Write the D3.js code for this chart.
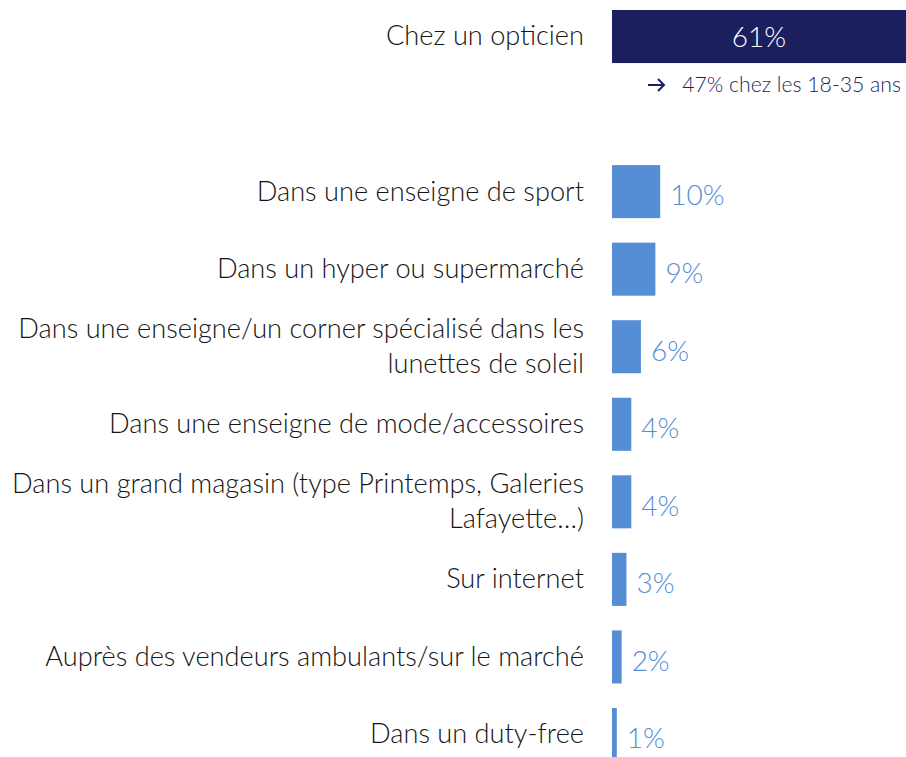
<!DOCTYPE html>
<html>
<head>
<meta charset="utf-8">
<script src="https://cdn.jsdelivr.net/npm/d3@7"></script>
<style>
  body { margin: 0; background: #fff; }
  text { font-family: Lato, "Open Sans", sans-serif; }
</style>
</head>
<body>
<svg id="chart" width="906" height="757"></svg>
<script>
// Lieux d'achat des lunettes de soleil (%)
const categories = [
    "Chez un opticien",
    "Dans une enseigne de sport",
    "Dans un hyper ou supermarché",
    "Dans une enseigne/un corner spécialisé dans les|lunettes de soleil",
    "Dans une enseigne de mode/accessoires",
    "Dans un grand magasin (type Printemps, Galeries|Lafayette…)",
    "Sur internet",
    "Auprès des vendeurs ambulants/sur le marché",
    "Dans un duty-free"
];
const values = [61, 10, 9, 6, 4, 4, 3, 2, 1];
const note = "47% chez les 18-35 ans";

const svg = d3.select("#chart"),
    width = +svg.attr("width"),
    height = +svg.attr("height");

const barLeft = 612, labelRight = 584;

// slot "gap" stays empty between the first bar and the others
const slots = ["s0", "gap"].concat(categories.slice(1).map((c, i) => "s" + (i + 1)));

const y = d3.scaleBand()
    .domain(slots)
    .range([10, 761])
    .paddingInner(0.316)
    .paddingOuter(0);

const x = d3.scaleLinear()
    .domain([0, 61])
    .range([barLeft, 906]);

const data = categories.map((c, i) => ({ label: c, value: values[i], slot: "s" + i, first: i === 0 }));

const rows = svg.append("g").selectAll("g")
    .data(data)
    .enter().append("g");

rows.append("rect")
    .attr("x", x(0))
    .attr("y", d => y(d.slot))
    .attr("width", d => x(d.value) - x(0))
    .attr("height", y.bandwidth())
    .attr("fill", d => d.first ? "#1b1f5d" : "#558ed5");

// category labels, right aligned, wrapped on "|"
rows.append("text")
    .attr("text-anchor", "end")
    .attr("fill", "#151515")
    .style("font-size", "27.2px")
    .style("font-weight", 300)
    .each(function (d) {
        const lines = d.label.split("|");
        const t = d3.select(this);
        const lh = 35;
        const cy = y(d.slot) + y.bandwidth() / 2 - (lines.length - 1) * lh / 2;
        lines.forEach((l, k) => {
            t.append("tspan")
                .attr("x", labelRight)
                .attr("y", cy + k * lh)
                .attr("dy", "0.33em")
                .text(l);
        });
    });

// value labels
rows.append("text")
    .attr("x", d => d.first ? (x(0) + x(d.value)) / 2 : x(d.value) + 10)
    .attr("y", d => y(d.slot) + y.bandwidth() / 2 + (d.first ? 1 : 4))
    .attr("dy", "0.35em")
    .attr("text-anchor", d => d.first ? "middle" : "start")
    .attr("fill", d => d.first ? "#fff" : "#558ed5")
    .style("font-size", "28px")
    .style("font-weight", 300)
    .text(d => d.value + "%");

// note under the first bar, with an arrow
const noteY = y("s0") + y.bandwidth() + 22;
svg.append("path")
    .attr("d", `M648,${noteY}H664M658,${noteY - 6}L664,${noteY}L658,${noteY + 6}`)
    .attr("fill", "none")
    .attr("stroke", "#1b1f5d")
    .attr("stroke-width", 2);
svg.append("text")
    .attr("x", 901)
    .attr("y", noteY)
    .attr("dy", "0.35em")
    .attr("text-anchor", "end")
    .attr("fill", "#1b1f5d")
    .style("font-size", "21.2px")
    .style("font-weight", 300)
    .text(note);
</script>
</body>
</html>
